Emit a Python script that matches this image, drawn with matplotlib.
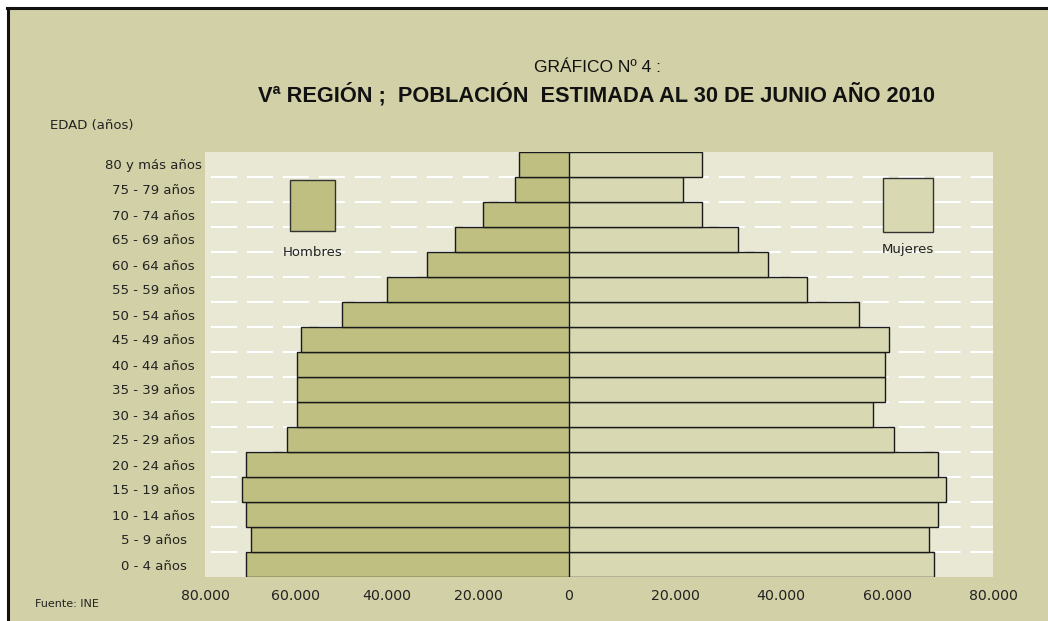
import matplotlib
matplotlib.use("Agg")
import matplotlib.pyplot as plt
from matplotlib.patches import Rectangle
from matplotlib.lines import Line2D
from matplotlib.ticker import FuncFormatter, FixedLocator

plt.rcParams['font.family'] = ['Liberation Sans', 'DejaVu Sans']
plt.rcParams['lines.scale_dashes'] = False

# age groups, bottom to top
grupos = ['0 - 4 años', '5 - 9 años', '10 - 14 años', '15 - 19 años', '20 - 24 años',
          '25 - 29 años', '30 - 34 años', '35 - 39 años', '40 - 44 años', '45 - 49 años',
          '50 - 54 años', '55 - 59 años', '60 - 64 años', '65 - 69 años', '70 - 74 años',
          '75 - 79 años', '80 y más años']
hombres = [71000, 69900, 71000, 71900, 71000, 62000, 59800, 59800, 59800, 58900,
           49900, 40000, 31200, 25100, 18900, 11900, 11000]
mujeres = [68900, 68000, 69700, 71200, 69700, 61400, 57400, 59600, 59600, 60400,
           54800, 44900, 37600, 31900, 25100, 21500, 25100]
ticks_h = [80000, 60000, 40000, 20000]
ticks_m = [0, 20000, 40000, 60000, 80000]

BG = '#D2D0A6'
PLOT_BG = '#E8E8D5'
C_H = '#BFBF82'
C_M = '#D8D9B3'

W, H = 1048, 621
fig = plt.figure(figsize=(W / 100, H / 100), dpi=100)
fig.patch.set_facecolor('white')

# outer panel with dark top/left edges
fig.patches.append(Rectangle((7 / W, 0), 1, 1 - 7 / H, transform=fig.transFigure,
                             facecolor=BG, edgecolor='none', zorder=-5))
fig.lines.append(Line2D([8 / W, 8 / W], [0, 1 - 8 / H], transform=fig.transFigure,
                        color='#111111', lw=2.2, zorder=-4))
fig.lines.append(Line2D([7 / W, 1], [1 - 8 / H, 1 - 8 / H], transform=fig.transFigure,
                        color='#111111', lw=2.2, zorder=-4))

def px(x0, y0, x1, y1):
    return [x0 / W, 1 - y1 / H, (x1 - x0) / W, (y1 - y0) / H]

ax_h = fig.add_axes(px(205, 152, 569, 577))
ax_m = fig.add_axes(px(569, 152, 993, 577))

fmt = FuncFormatter(lambda v, p: f"{v:,.0f}".replace(',', '.'))
y = list(range(len(grupos)))

for ax, vals, col, lim, tk in [(ax_h, hombres, C_H, (80000, 0), ticks_h),
                               (ax_m, mujeres, C_M, (0, 80000), ticks_m)]:
    ax.set_facecolor(PLOT_BG)
    ax.barh(y, vals, height=1.0, color=col, edgecolor='#1a1a1a', linewidth=1.0, zorder=3)
    ax.hlines([i + 0.5 for i in range(len(grupos) - 1)], lim[0], lim[1], colors='white',
              linewidth=1.5, linestyles=[(-4.3, (18.7, 7.2))], zorder=1)
    ax.set_xlim(*lim)
    ax.set_ylim(-0.5, len(grupos) - 0.5)
    for s in ax.spines.values():
        s.set_visible(False)
    ax.xaxis.set_major_locator(FixedLocator(tk))
    ax.xaxis.set_major_formatter(fmt)
    ax.tick_params(axis='x', length=0, pad=9, labelsize=10.2, labelcolor='#222222')
    for lab in ax.get_xticklabels():
        lab.set_family(['DejaVu Sans'])

ax_m.set_yticks([])
ax_h.set_yticks(y)
ax_h.set_yticklabels(grupos, ha='center', family=['DejaVu Sans'], fontsize=9.5,
                     color='#222222')
ax_h.tick_params(axis='y', length=0, pad=37)

# legend boxes
fig.patches.append(Rectangle((290 / W, 1 - 231 / H), 45 / W, 51 / H, transform=fig.transFigure,
                             facecolor=C_H, edgecolor='#333333', lw=1, zorder=5))
fig.patches.append(Rectangle((883 / W, 1 - 232 / H), 50 / W, 54 / H, transform=fig.transFigure,
                             facecolor=C_M, edgecolor='#333333', lw=1, zorder=5))
fig.text(313 / W, 1 - 253 / H, 'Hombres', ha='center', va='center', fontsize=9.5,
         family=['DejaVu Sans'], color='#222222', zorder=5)
fig.text(908 / W, 1 - 250 / H, 'Mujeres', ha='center', va='center', fontsize=9.5,
         family=['DejaVu Sans'], color='#222222', zorder=5)

fig.text(598 / W, 1 - 68 / H, 'GRÁFICO Nº 4 :', ha='center', va='center', fontsize=12.5,
         color='#111111')
fig.text(597 / W, 1 - 95 / H, 'Vª REGIÓN ;  POBLACIÓN  ESTIMADA AL 30 DE JUNIO AÑO 2010',
         ha='center', va='center', fontsize=15.7, fontweight='bold', color='#111111')
fig.text(50 / W, 1 - 125 / H, 'EDAD (años)', ha='left', va='center', fontsize=9.5,
         family=['DejaVu Sans'], color='#222222')
fig.text(35 / W, 1 - 604 / H, 'Fuente: INE', ha='left', va='center', fontsize=8,
         family=['DejaVu Sans'], color='#222222')

fig.savefig('out.png', dpi=100, facecolor=fig.get_facecolor())
